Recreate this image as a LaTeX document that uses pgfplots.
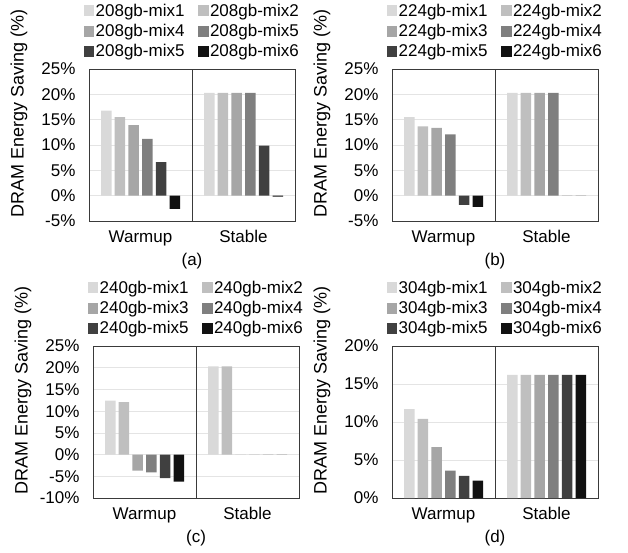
\documentclass[border=0pt]{standalone}
\usepackage{fontspec}
\setmainfont{Liberation Sans}
\usepackage{pgfplots}
\pgfplotsset{compat=1.18}

\definecolor{m1}{HTML}{D9D9D9}
\definecolor{m2}{HTML}{BFBFBF}
\definecolor{m3}{HTML}{A6A6A6}
\definecolor{m4}{HTML}{7F7F7F}
\definecolor{m5}{HTML}{404040}
\definecolor{m6}{HTML}{111111}
\definecolor{frame}{HTML}{3A3A3A}
\definecolor{gridc}{HTML}{E4E4E4}
\newcommand\fs{\fontsize{17}{20}\selectfont}

\pgfplotsset{
  panel/.style={
    scale only axis, width=206pt, height=152pt,
    font=\fs,
    ybar=3.2pt, bar width=10.5pt,
    xmin=-0.5, xmax=1.5, xtick={0,1}, xticklabels={Warmup,Stable},
    extra x ticks={0.5}, extra x tick labels={},
    extra x tick style={xmajorgrids=true, major grid style={draw=frame, line width=0.8pt}},
    major tick length=0pt,
    ymajorgrids, grid style={draw=gridc, line width=0.7pt},
    axis line style={draw=frame, line width=0.8pt},
    yticklabel style={xshift=-10pt},
    xticklabel style={yshift=-6pt},
    ylabel={DRAM Energy Saving (\%)},
    ylabel style={at={(axis description cs:-0.34,0.71)}, anchor=center, font=\fontsize{18}{20}\selectfont},
    xlabel style={yshift=-1pt},
    legend columns=2,
    legend cell align=left,
    legend style={draw=none, fill=none, at={(0.5,1)}, anchor=south, yshift=7pt,
      font=\fs, row sep=3.5pt,
      nodes={inner sep=1.5pt},
      /tikz/every even column/.append style={column sep=12pt}},
    legend image code/.code={\fill[##1,draw=none] (0pt,-5.5pt) rectangle (10.5pt,5.5pt);},
    every axis plot/.append style={draw=none},
  },
}

\begin{document}
\begin{tikzpicture}
\useasboundingbox (0pt,0pt) rectangle (628pt,-552pt);

% (a)
\begin{axis}[panel, at={(89pt,-221pt)}, anchor=south west,
  ymin=-5, ymax=25, ytick={-5,0,5,10,15,20,25},
  yticklabels={-5\%,0\%,5\%,10\%,15\%,20\%,25\%}, xlabel={(a)}]
\addplot[fill=m1] coordinates {(0,16.8) (1,20.3)};
\addplot[fill=m2] coordinates {(0,15.5) (1,20.3)};
\addplot[fill=m3] coordinates {(0,13.9) (1,20.3)};
\addplot[fill=m4] coordinates {(0,11.2) (1,20.3)};
\addplot[fill=m5] coordinates {(0,6.6) (1,9.9)};
\addplot[fill=m6] coordinates {(0,-2.6) (1,-0.2)};
\legend{208gb-mix1,208gb-mix2,208gb-mix4,208gb-mix5,208gb-mix5,208gb-mix6}
\end{axis}

% (b)
\begin{axis}[panel, at={(392pt,-221pt)}, anchor=south west,
  ymin=-5, ymax=25, ytick={-5,0,5,10,15,20,25},
  yticklabels={-5\%,0\%,5\%,10\%,15\%,20\%,25\%}, xlabel={(b)}]
\addplot[fill=m1] coordinates {(0,15.5) (1,20.3)};
\addplot[fill=m2] coordinates {(0,13.7) (1,20.3)};
\addplot[fill=m3] coordinates {(0,13.4) (1,20.3)};
\addplot[fill=m4] coordinates {(0,12.1) (1,20.3)};
\addplot[fill=m5] coordinates {(0,-1.8) (1,0)};
\addplot[fill=m6] coordinates {(0,-2.2) (1,0)};
\legend{224gb-mix1,224gb-mix2,224gb-mix3,224gb-mix4,224gb-mix5,224gb-mix6}
\end{axis}

% (c)
\begin{axis}[panel, at={(93pt,-498pt)}, anchor=south west,
  ymin=-10, ymax=25, ytick={-10,-5,0,5,10,15,20,25},
  yticklabels={-10\%,-5\%,0\%,5\%,10\%,15\%,20\%,25\%}, xlabel={(c)}]
\addplot[fill=m1] coordinates {(0,12.4) (1,20.3)};
\addplot[fill=m2] coordinates {(0,12.1) (1,20.3)};
\addplot[fill=m3] coordinates {(0,-3.7) (1,0)};
\addplot[fill=m4] coordinates {(0,-4.1) (1,0)};
\addplot[fill=m5] coordinates {(0,-5.4) (1,0)};
\addplot[fill=m6] coordinates {(0,-6.2) (1,0)};
\legend{240gb-mix1,240gb-mix2,240gb-mix3,240gb-mix4,240gb-mix5,240gb-mix6}
\end{axis}

% (d)
\begin{axis}[panel, at={(392pt,-498pt)}, anchor=south west,
  ymin=0, ymax=20, ytick={0,5,10,15,20},
  yticklabels={0\%,5\%,10\%,15\%,20\%}, xlabel={(d)}]
\addplot[fill=m1] coordinates {(0,11.7) (1,16.2)};
\addplot[fill=m2] coordinates {(0,10.4) (1,16.2)};
\addplot[fill=m3] coordinates {(0,6.7) (1,16.2)};
\addplot[fill=m4] coordinates {(0,3.6) (1,16.2)};
\addplot[fill=m5] coordinates {(0,2.9) (1,16.2)};
\addplot[fill=m6] coordinates {(0,2.3) (1,16.2)};
\legend{304gb-mix1,304gb-mix2,304gb-mix3,304gb-mix4,304gb-mix5,304gb-mix6}
\end{axis}
\end{tikzpicture}
\end{document}
